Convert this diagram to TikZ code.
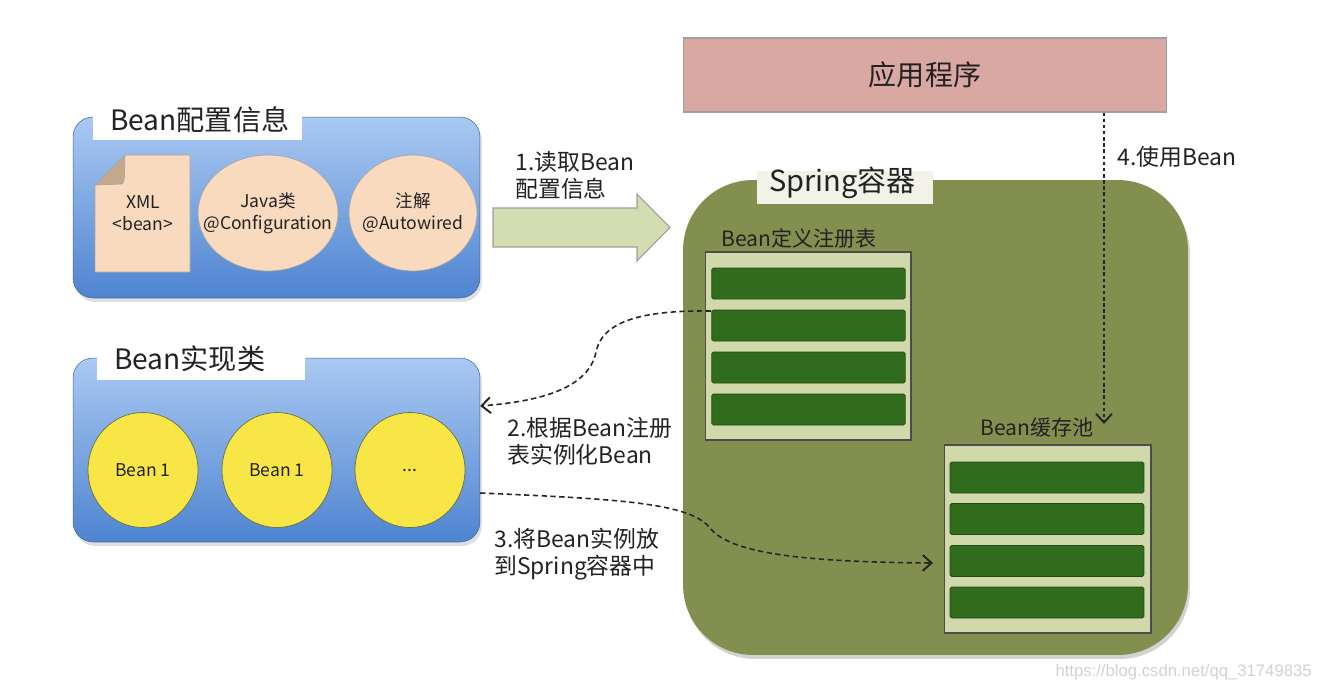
\documentclass[tikz,border=0pt]{standalone}
\usepackage{fontspec}
\setmainfont{Noto Sans CJK SC}
\newfontfamily\wmfont{Liberation Sans}
\usetikzlibrary{arrows.meta,shadows,shapes.geometric}
\definecolor{apppink}{RGB}{217,168,162}
\definecolor{bluetop}{RGB}{170,201,243}
\definecolor{bluebot}{RGB}{78,132,208}
\definecolor{peach}{RGB}{250,218,190}
\definecolor{peachdark}{RGB}{196,168,140}
\definecolor{beanyellow}{RGB}{248,230,70}
\definecolor{arrowgreen}{RGB}{212,221,178}
\definecolor{olive}{RGB}{131,143,79}
\definecolor{tabcream}{RGB}{242,242,232}
\definecolor{regfill}{RGB}{209,217,170}
\definecolor{bargreen}{RGB}{48,107,30}
\definecolor{txt}{RGB}{34,34,34}
\begin{document}
\begin{tikzpicture}[x=0.02cm,y=-0.02cm,
  every node/.style={text=txt},
  bluebox/.style={rounded corners=0.4cm, top color=bluetop, bottom color=bluebot,
     draw=bluebot!80!black, line width=0.3pt, minimum width=8.14cm,
     drop shadow={opacity=0.25, shadow xshift=0.04cm, shadow yshift=-0.08cm}},
  tabbox/.style={fill=white, minimum width=4.18cm, minimum height=0.8cm, inner sep=0pt},
  title/.style={font=\fontsize{16}{18}\selectfont, anchor=west},
  peachell/.style={ellipse, fill=peach, draw=gray!70, line width=0.4pt, inner sep=0pt},
  inner/.style={font=\fontsize{10}{12.5}\selectfont, align=center, inner sep=0pt},
  bean/.style={ellipse, fill=beanyellow, draw=olive!80!black, line width=0.4pt,
     minimum width=2.2cm, minimum height=2.3cm, font=\fontsize{10}{12}\selectfont, inner sep=0pt},
  steplabel/.style={font=\fontsize{13}{15.5}\selectfont, align=left, anchor=west, inner sep=0pt},
  regbox/.style={fill=regfill, draw=black!70, line width=0.6pt, minimum width=4.12cm, minimum height=3.76cm, inner sep=0pt},
  bar/.style={fill=bargreen, draw=bargreen!70!black, line width=0.5pt, rounded corners=1pt,
     minimum width=3.87cm, minimum height=0.62cm, inner sep=0pt},
  sublabel/.style={font=\fontsize{12}{14}\selectfont, inner sep=0pt},
  flow/.style={draw=black!85, line width=0.9pt, dash pattern=on 3pt off 2pt,
     -{Straight Barb[length=5pt,width=9pt,line width=1.1pt]}}
]
\useasboundingbox (0,0) rectangle (1322,690);
\fill[white] (0,0) rectangle (1322,690);

% application
\node[fill=apppink, draw=gray!75, line width=0.6pt, minimum width=9.68cm, minimum height=1.48cm,
  font=\fontsize{16}{18}\selectfont] (app) at (925,75) {应用程序};

% Bean configuration box
\node[bluebox, minimum height=3.62cm] (cfg) at (276.5,207.5) {};
\node[tabbox] (cfgtab) at (197.5,120) {};
\node[title] (cfgtitle) at (104,120) {Bean配置信息};

% XML document
\fill[peach, draw=gray!70, line width=0.4pt] (125,155) -- (190,155) -- (190,272) -- (95,272) -- (95,185) -- cycle;
\fill[peachdark, draw=gray!70, line width=0.4pt] (95,185) -- (125,155) .. controls (124,168) and (126,180) .. (122,184) -- cycle;
\node[inner] (xml) at (143,213) {XML\\<bean>};
\node[peachell, minimum width=2.8cm, minimum height=2.32cm] (java) at (268,213) {};
\node[inner] (javatxt) at (java.center) {Java类\\@Configuration};
\node[peachell, minimum width=2.56cm, minimum height=2.32cm] (anno) at (413,213) {};
\node[inner] (annotxt) at (anno.center) {注解\\@Autowired};

% Bean implementation box
\node[bluebox, minimum height=3.68cm] (impl) at (276.5,450) {};
\node[tabbox, minimum width=4.16cm, minimum height=0.76cm] (impltab) at (201,361) {};
\node[title] (impltitle) at (108,359) {Bean实现类};
\node[bean] (b1) at (143,470) {Bean 1};
\node[bean] (b2) at (277,470) {Bean 1};
\node[bean] (b3) at (410,470) {...};

% block arrow 1
\fill[arrowgreen, draw=gray!75, line width=0.6pt]
  (493,208) -- (637,208) -- (637,194) -- (670,227.5) -- (637,261) -- (637,247) -- (493,247) -- cycle;
\node[steplabel] (l1) at (515,175) {1.读取Bean\\配置信息};

% Spring container
\node[fill=olive, rounded corners=1.4cm, minimum width=10.1cm, minimum height=9.5cm,
  drop shadow={opacity=0.35, shadow xshift=0.04cm, shadow yshift=-0.08cm}] (spring) at (935.5,417.5) {};
\node[fill=tabcream, minimum width=3.52cm, minimum height=0.66cm, inner sep=0pt] (springtab) at (845,187) {};
\node[font=\fontsize{16.5}{18}\selectfont, anchor=west, inner sep=0pt] (springtitle) at (769,183) {Spring容器};

% registry
\node[sublabel] (reglabel) at (799,238) {Bean定义注册表};
\node[regbox] (reg) at (808,346) {};
\node[bar] (r1) at (808.5,283.5) {};
\node[bar] (r2) at (808.5,325.5) {};
\node[bar] (r3) at (808.5,367.5) {};
\node[bar] (r4) at (808.5,409.5) {};

% cache pool
\node[sublabel] (cachelabel) at (1037,428) {Bean缓存池};
\node[regbox, minimum width=4.14cm] (cache) at (1047.5,539) {};
\node[bar, minimum width=3.88cm] (c1) at (1047,477.5) {};
\node[bar, minimum width=3.88cm] (c2) at (1047,519) {};
\node[bar, minimum width=3.88cm] (c3) at (1047,561) {};
\node[bar, minimum width=3.88cm] (c4) at (1047,602.5) {};

% connectors
\coordinate (usestart) at (app.south -| 1104,0);
\coordinate (useend) at (1104,424);
\draw[flow, dash pattern=on 2pt off 1.5pt, line width=0.8pt] (usestart) -- (useend);
\node[steplabel] (l4) at (1117,157) {4.使用Bean};

\coordinate (regout) at (711,311);
\coordinate (implin) at (impl.east |- 0,406);
\draw[flow] (regout) .. controls (640,310) and (602,322) .. (596,352)
  .. controls (588,392) and (530,402) .. (implin);
\node[steplabel] (l2) at (507,441.5) {2.根据Bean注册\\表实例化Bean};

\coordinate (implout) at (impl.east |- 0,493);
\coordinate (cachein) at (933,563);
\draw[flow] (implout) .. controls (620,499) and (690,503) .. (710,528)
  .. controls (730,553) and (800,562) .. (cachein);
\node[steplabel] (l3) at (494,554) {3.将Bean实例放\\到Spring容器中};

% watermark
\node[font=\wmfont\fontsize{9.5}{11}\selectfont, text=gray!35, anchor=east, inner sep=0pt] (wm) at (1312,672) {https://blog.csdn.net/qq\_31749835};
\end{tikzpicture}
\end{document}
